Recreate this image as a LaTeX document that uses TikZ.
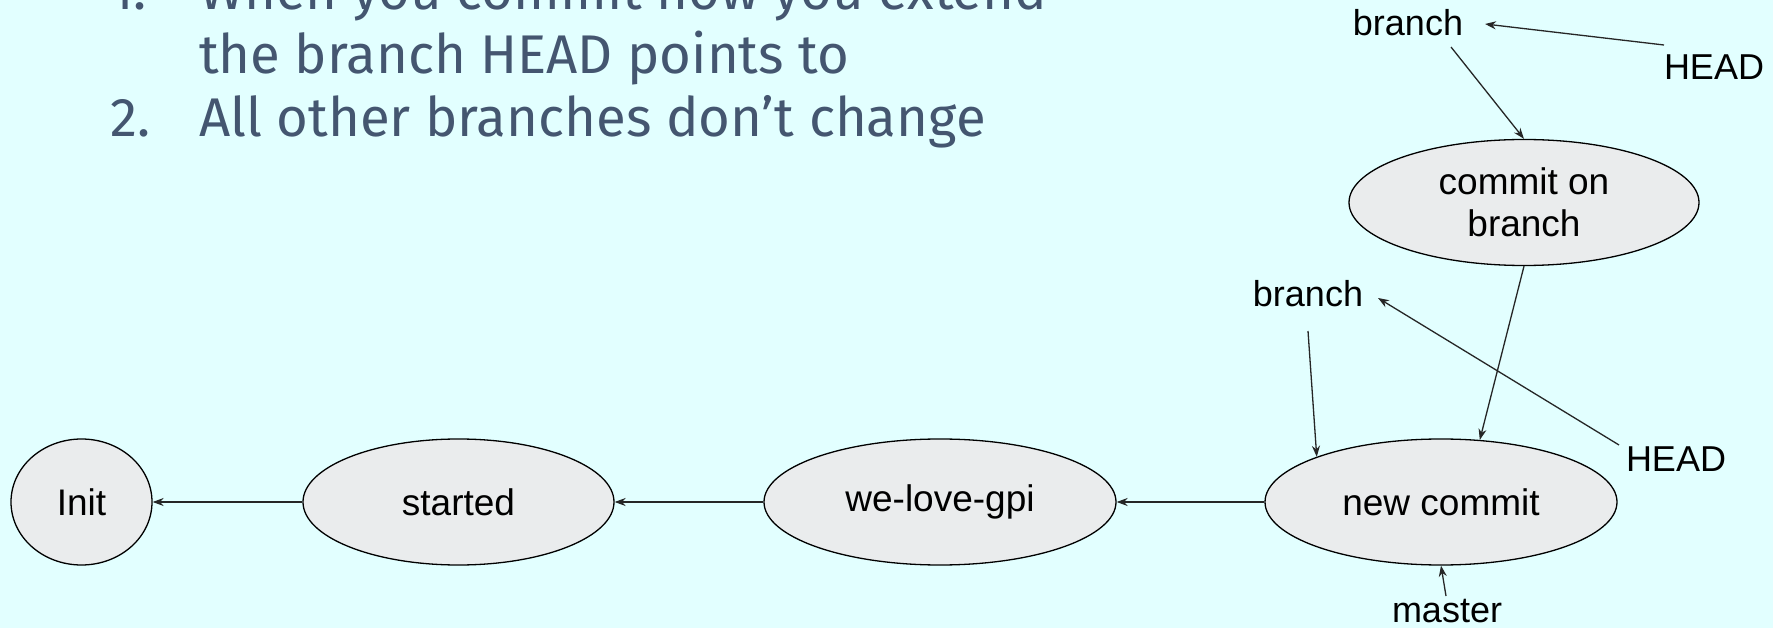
\documentclass[tikz,border=0pt]{standalone}
\usepackage{fontspec}
\setmainfont{Liberation Sans}
\newfontfamily\listfont{Fira Sans}
\usetikzlibrary{shapes.geometric,arrows.meta}
\definecolor{bgc}{RGB}{226,255,255}
\definecolor{ellfill}{RGB}{234,236,237}
\definecolor{listc}{RGB}{68,86,112}
\tikzset{
  commit/.style={ellipse, draw=black, fill=ellfill, line width=1.3pt, inner sep=0pt,
    minimum height=126pt, align=center, font=\fontsize{37}{42}\selectfont},
  lbl/.style={inner sep=0pt, font=\fontsize{36}{40}\selectfont},
  arr/.style={-{Stealth[length=11pt,width=8pt]}, line width=1.3pt, draw=black!85},
  listtxt/.style={inner sep=0pt, anchor=base west, text=listc, font=\listfont\fontsize{54.5}{60}\selectfont}
}
\begin{document}
\begin{tikzpicture}[x=1pt,y=-1pt]
\fill[bgc] (0,0) rectangle (1773,628);
\useasboundingbox (0,0) rectangle (1773,628);
% list text
\node[listtxt] (n1) at (110,10) {1.};
\node[listtxt] (t1) at (199,10) {When you commit now you extend};
\node[listtxt] (t2) at (199,74) {the branch HEAD points to};
\node[listtxt] (n2) at (110,137) {2.};
\node[listtxt] (t3) at (199,137) {All other branches don’t change};
% commits
\node[commit, minimum width=141pt] (init) at (81.5,502) {Init};
\node[commit, minimum width=311pt] (started) at (458.5,502) {started};
\node[commit, minimum width=352pt] (gpi) at (940,502) {we-love-gpi};
\node[commit, minimum width=352pt] (nc) at (1441,502) {new commit};
\node[commit, minimum width=350pt] (cob) at (1524,202.5) {commit on\\branch};
% labels
\node[lbl] (btop) at (1408,23) {branch};
\node[lbl] (htop) at (1714,67) {HEAD};
\node[lbl] (bmid) at (1308,294) {branch};
\node[lbl] (hmid) at (1676,459) {HEAD};
\node[lbl] (master) at (1447,611) {master};
% connectors
\draw[arr] (nc.west) -- (gpi.east);
\draw[arr] (gpi.west) -- (started.east);
\draw[arr] (started.west) -- (init.east);
\draw[arr] (cob.south) -- (nc.58);
\draw[arr] ([shift={(-50,-22)}]htop.center) -- ([shift={(77,1)}]btop.center);
\draw[arr] ([shift={(43,24)}]btop.center) -- (cob.north);
\draw[arr] ([shift={(0,37)}]bmid.center) -- (nc.160);
\draw[arr] ([shift={(-57,-14)}]hmid.center) -- ([shift={(70,4)}]bmid.center);
\draw[arr] ([shift={(-1,-15)}]master.center) -- (nc.south);
\end{tikzpicture}
\end{document}
